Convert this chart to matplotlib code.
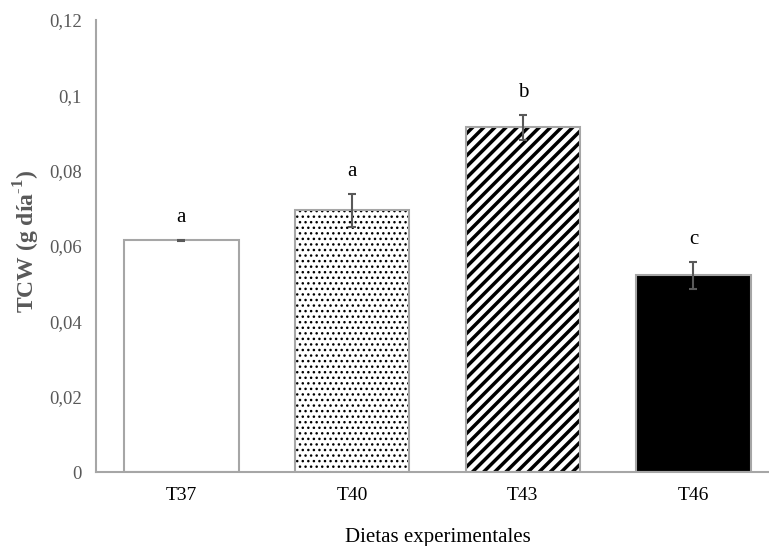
import numpy as np
import matplotlib.pyplot as plt

dietas = ['T37', 'T40', 'T43', 'T46']
tcw = [0.0615, 0.0695, 0.0915, 0.0522]
err = [0.0002, 0.0044, 0.0033, 0.0036]
letras = ['a', 'a', 'b', 'c']
yticks = [0, 0.02, 0.04, 0.06, 0.08, 0.1, 0.12]
ylabels = ['0', '0,02', '0,04', '0,06', '0,08', '0,1', '0,12']

plt.rcParams['font.family'] = ['Liberation Serif', 'DejaVu Serif']
plt.rcParams['mathtext.fontset'] = 'custom'
plt.rcParams['mathtext.rm'] = 'Liberation Serif'
plt.rcParams['mathtext.bf'] = 'Liberation Serif:bold'
gris = '#a6a6a6'
gris_txt = '#595959'

fig = plt.figure(figsize=(7.69, 5.46), dpi=100)
ax = fig.add_axes([0.1248, 0.1355, 0.888, 0.828])

x = np.arange(len(dietas))
fills = ['white', 'white', 'white', 'black']
hatches = [None, '...', '///', None]
hlw = [1.0, 1.0, 2.5, 1.0]
for i in range(len(dietas)):
    with plt.rc_context({'hatch.linewidth': hlw[i]}):
        ax.bar(x[i], tcw[i], width=0.67, color=fills[i], edgecolor='black',
               linewidth=0, hatch=hatches[i], zorder=2)
    ax.bar(x[i], tcw[i], width=0.67, fill=False, edgecolor=gris, linewidth=1.5, zorder=3)

ax.errorbar(x, tcw, yerr=err, fmt='none', ecolor=gris_txt, elinewidth=1.5,
            capsize=3.2, capthick=1.5, zorder=4)

for i in range(len(dietas)):
    ax.annotate(letras[i], (x[i], tcw[i] + err[i]), xytext=(0, 9), textcoords='offset points',
                ha='center', va='bottom', fontsize=15)

ax.set_xlim(-0.5, 3.5)
ax.set_ylim(0, 0.12)
ax.set_xticks(x)
ax.set_xticklabels(dietas, fontsize=14)
ax.set_yticks(yticks)
ax.set_yticklabels(ylabels, fontsize=13.5, color=gris_txt)
ax.tick_params(length=0, pad=10)
ax.tick_params(axis='x', pad=11)
for s in ['top', 'right']:
    ax.spines[s].set_visible(False)
for s in ['left', 'bottom']:
    ax.spines[s].set_color(gris)
    ax.spines[s].set_linewidth(1.5)

ax.set_ylabel('TCW (g día$^{\\mathbf{\\text{-}1}}$)', fontsize=17, fontweight='bold',
              color=gris_txt, labelpad=5, y=0.51)
ax.set_xlabel('Dietas experimentales', fontsize=15, labelpad=17)

fig.savefig('out.png', dpi=100)
